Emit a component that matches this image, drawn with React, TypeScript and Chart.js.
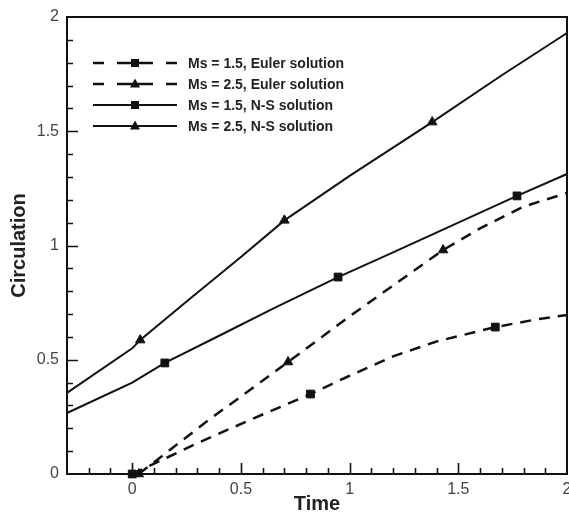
import React, { useEffect, useRef } from 'react';
import { Chart, registerables } from 'chart.js';

Chart.register(...registerables);

// Axis ticks
const xTicks = [0, 0.5, 1, 1.5, 2];
const yTicks = [0, 0.5, 1, 1.5, 2];

// Series labels
const seriesLabels = [
  'Ms = 1.5, Euler solution',
  'Ms = 2.5, Euler solution',
  'Ms = 1.5, N-S solution',
  'Ms = 2.5, N-S solution',
];

// Ms = 1.5, Euler
const eulerMs15Time = [0, 0.3, 0.55, 0.82, 1.0, 1.2, 1.4, 1.67, 1.85, 2.0];
const eulerMs15Circ = [0, 0.135, 0.24, 0.35, 0.43, 0.515, 0.58, 0.643, 0.675, 0.696];
const eulerMs15Markers = [0, 3, 7];

// Ms = 2.5, Euler
const eulerMs25Time = [0.03, 0.35, 0.717, 1.0, 1.2, 1.43, 1.6, 1.8, 2.0];
const eulerMs25Circ = [0.0, 0.235, 0.49, 0.69, 0.825, 0.98, 1.075, 1.17, 1.23];
const eulerMs25Markers = [0, 2, 5];

// Ms = 1.5, N-S
const nsMs15Time = [-0.3, 0, 0.15, 0.4, 0.65, 0.947, 1.2, 1.5, 1.77, 2.0];
const nsMs15Circ = [0.267, 0.4, 0.486, 0.605, 0.725, 0.862, 0.97, 1.1, 1.217, 1.313];
const nsMs15Markers = [2, 5, 8];

// Ms = 2.5, N-S
const nsMs25Time = [-0.3, 0, 0.037, 0.25, 0.5, 0.7, 1.0, 1.38, 1.7, 2.0];
const nsMs25Circ = [0.355, 0.55, 0.586, 0.755, 0.95, 1.11, 1.305, 1.54, 1.745, 1.93];
const nsMs25Markers = [2, 5, 7];

const INK = '#111';
const FONT = '"Liberation Sans", Arial, sans-serif';

function pts(xs: number[], ys: number[]) {
  return xs.map((x, i) => ({ x, y: ys[i] }));
}
function radii(n: number, marks: number[], r: number) {
  return Array.from({ length: n }, (_, i) => (marks.includes(i) ? r : 0));
}

function drawMarker(ctx: CanvasRenderingContext2D, style: string, cx: number, cy: number) {
  ctx.fillStyle = INK;
  if (style === 'rect') {
    ctx.fillRect(cx - 4, cy - 4, 8, 8);
  } else {
    ctx.beginPath();
    ctx.moveTo(cx, cy - 5.5);
    ctx.lineTo(cx + 5, cy + 3.5);
    ctx.lineTo(cx - 5, cy + 3.5);
    ctx.closePath();
    ctx.fill();
  }
}

const framePlugin = {
  id: 'frameTicksLegend',
  afterDraw(chart: any) {
    const { ctx, chartArea: a } = chart;
    const xs = chart.scales.x;
    const ys = chart.scales.y;
    ctx.save();
    ctx.strokeStyle = INK;
    ctx.lineWidth = 2;
    ctx.beginPath();
    ctx.moveTo(a.left, a.top);
    ctx.lineTo(a.right, a.top);
    ctx.lineTo(a.right, a.bottom);
    ctx.stroke();

    ctx.lineWidth = 1.6;
    ctx.beginPath();
    for (let i = -2; i < 20; i++) {
      const px = Math.round(xs.getPixelForValue(i / 10)) + 0.5;
      const len = i % 5 === 0 ? 11 : 6;
      ctx.moveTo(px, a.bottom);
      ctx.lineTo(px, a.bottom - len);
    }
    for (let i = 1; i < 20; i++) {
      const py = Math.round(ys.getPixelForValue(i / 10)) + 0.5;
      const len = i % 5 === 0 ? 11 : 6;
      ctx.moveTo(a.left, py);
      ctx.lineTo(a.left + len, py);
    }
    ctx.stroke();

    // Legend
    const rowsY = [63, 84, 105, 126];
    const x0 = 93;
    const x1 = 177;
    const xm = 135;
    chart.data.datasets.forEach((ds: any, i: number) => {
      const y = rowsY[i];
      ctx.strokeStyle = INK;
      ctx.lineWidth = ds.borderWidth;
      ctx.setLineDash([]);
      ctx.beginPath();
      if (ds.borderDash && ds.borderDash.length) {
        ctx.moveTo(x0, y); ctx.lineTo(x0 + 11, y);
        ctx.moveTo(117, y); ctx.lineTo(153, y);
        ctx.moveTo(x1 - 11, y); ctx.lineTo(x1, y);
      } else {
        ctx.moveTo(x0, y); ctx.lineTo(x1, y);
      }
      ctx.stroke();
      drawMarker(ctx, ds.pointStyle, xm, y);
      ctx.fillStyle = '#222';
      ctx.font = 'bold 14px ' + FONT;
      ctx.textBaseline = 'middle';
      ctx.textAlign = 'left';
      ctx.fillText(ds.label, 188, y + 1);
    });
    ctx.restore();
  },
};

export default function App() {
  const ref = useRef<HTMLCanvasElement | null>(null);
  useEffect(() => {
    document.body.style.margin = '0';
    if (!ref.current) return;
    const common = {
      borderColor: INK,
      pointBackgroundColor: INK,
      pointBorderColor: INK,
      pointBorderWidth: 1,
      tension: 0,
      fill: false,
      clip: false as any,
    };
    const chart = new Chart(ref.current, {
      type: 'line',
      data: {
        datasets: [
          {
            ...common,
            label: seriesLabels[0],
            data: pts(eulerMs15Time, eulerMs15Circ),
            borderWidth: 2.5,
            borderDash: [11, 8],
            pointStyle: 'rect',
            pointRadius: radii(eulerMs15Time.length, eulerMs15Markers, 5.5),
          },
          {
            ...common,
            label: seriesLabels[1],
            data: pts(eulerMs25Time, eulerMs25Circ),
            borderWidth: 2.5,
            borderDash: [11, 8],
            pointStyle: 'triangle',
            pointRadius: radii(eulerMs25Time.length, eulerMs25Markers, 5.5),
          },
          {
            ...common,
            label: seriesLabels[2],
            data: pts(nsMs15Time, nsMs15Circ),
            borderWidth: 2,
            pointStyle: 'rect',
            pointRadius: radii(nsMs15Time.length, nsMs15Markers, 5.5),
          },
          {
            ...common,
            label: seriesLabels[3],
            data: pts(nsMs25Time, nsMs25Circ),
            borderWidth: 2,
            pointStyle: 'triangle',
            pointRadius: radii(nsMs25Time.length, nsMs25Markers, 5.5),
          },
        ] as any,
      },
      options: {
        animation: false,
        responsive: false,
        devicePixelRatio: 1,
        layout: { autoPadding: false, padding: { top: 17, right: 2, left: 0, bottom: 0 } },
        plugins: { legend: { display: false }, tooltip: { enabled: false } },
        scales: {
          x: {
            type: 'linear',
            min: -0.3,
            max: 2,
            afterBuildTicks: (s: any) => { s.ticks = xTicks.map((v) => ({ value: v })); },
            afterFit: (s: any) => { s.height = 39; s.paddingLeft = 0; s.paddingRight = 0; },
            grid: { display: false, drawTicks: false },
            border: { display: true, color: INK, width: 2 },
            ticks: {
              color: '#444',
              padding: 6,
              font: { family: FONT, size: 16 },
              autoSkip: false,
              maxRotation: 0,
              callback: (v: any) => String(v),
            },
            title: {
              display: true,
              text: 'Time',
              color: '#222',
              font: { family: FONT, size: 20, weight: 'bold' },
              padding: { top: 0, bottom: -3 },
            },
          },
          y: {
            type: 'linear',
            min: 0,
            max: 2,
            afterBuildTicks: (s: any) => { s.ticks = yTicks.map((v) => ({ value: v })); },
            afterFit: (s: any) => { s.width = 67; s.paddingTop = 0; s.paddingBottom = 0; },
            grid: { display: false, drawTicks: false },
            border: { display: true, color: INK, width: 2 },
            ticks: {
              color: '#444',
              padding: 8,
              font: { family: FONT, size: 16 },
              autoSkip: false,
              callback: (v: any) => String(v),
            },
            title: {
              display: true,
              text: 'Circulation',
              color: '#222',
              font: { family: FONT, size: 20, weight: 'bold' },
              padding: { top: 7, bottom: 0 },
            },
          },
        },
      } as any,
      plugins: [framePlugin],
    });
    return () => chart.destroy();
  }, []);
  return (
    <div style={{ width: 569, height: 513, background: '#fff' }}>
      <canvas ref={ref} width={569} height={513} style={{ display: 'block', width: 569, height: 513 }} />
    </div>
  );
}
